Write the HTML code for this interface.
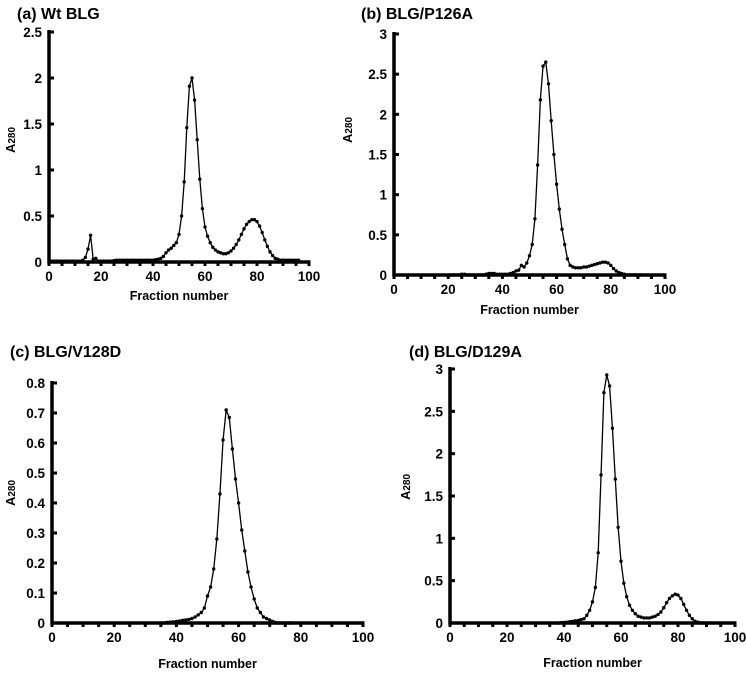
<!DOCTYPE html>
<html><head><meta charset="utf-8">
<style>
body{margin:0;background:#fff}
svg{display:block;font-family:"Liberation Sans",Arial,sans-serif;font-weight:bold}
</style></head>
<body>
<svg id="chart" width="746" height="675" viewBox="0 0 746 675"></svg>
<script>
// Panel (a) Wt BLG: fractions start at 1
const fracA = [];
for (let i = 1; i <= 96; i++) fracA.push(i);
const valA = [0.01,0.01,0.01,0.01,0.01,0.01,0.01,0.01,0.01,0.01,0.01,0.01,0.02,0.05,0.14,0.29,0.03,0.04,0.01,0.01,
0.01,0.01,0.01,0.01,0.015,0.02,0.02,0.02,0.02,0.02,0.02,0.02,0.02,0.02,0.02,0.02,0.02,0.02,0.02,0.02,
0.025,0.03,0.04,0.06,0.1,0.13,0.15,0.18,0.21,0.3,0.5,0.87,1.46,1.91,2.0,1.76,1.33,0.9,0.58,0.38,
0.28,0.21,0.16,0.13,0.11,0.1,0.09,0.09,0.1,0.12,0.15,0.19,0.24,0.3,0.36,0.41,0.44,0.46,0.46,0.44,
0.39,0.32,0.24,0.17,0.11,0.07,0.04,0.03,0.02,0.02,0.02,0.02,0.02,0.02,0.02,0.02];
// Panel (b) BLG/P126A
const startB = 21;
const valB = [0.0,0.0,0.0,0.0,0.01,0.01,0.0,0.0,0.0,0.0,0.0,0.0,0.0,0.01,0.02,0.02,0.02,0.01,0.01,0.01,
0.01,0.01,0.02,0.03,0.05,0.06,0.12,0.1,0.15,0.24,0.38,0.7,1.37,2.18,2.6,2.65,2.38,1.92,1.5,1.13,
0.82,0.57,0.38,0.2,0.12,0.1,0.09,0.09,0.09,0.1,0.1,0.11,0.12,0.13,0.14,0.15,0.16,0.16,0.15,0.12,
0.08,0.05,0.03,0.02,0.01,0.0,0.0,0.0,0.0,0.0,0.0];
// Panel (c) BLG/V128D
const startC = 36;
const valC = [0.0,0.002,0.003,0.004,0.005,0.007,0.009,0.01,0.012,0.015,0.02,0.027,0.035,0.05,0.09,0.12,0.18,0.28,0.43,0.61,
0.71,0.685,0.58,0.48,0.4,0.31,0.24,0.17,0.12,0.08,0.05,0.035,0.02,0.015,0.01,0.005,0.002,0.0,0.0,0.0,0.0,0.0];
// Panel (d) BLG/D129A
const startD = 38;
const valD = [0.0,0.005,0.007,0.01,0.015,0.02,0.025,0.03,0.04,0.05,0.09,0.15,0.25,0.42,0.83,1.75,2.72,2.93,2.8,2.3,
1.7,1.13,0.73,0.47,0.31,0.21,0.15,0.11,0.08,0.07,0.06,0.06,0.06,0.07,0.08,0.1,0.13,0.18,0.24,0.29,
0.32,0.34,0.33,0.29,0.22,0.15,0.09,0.05,0.02,0.01,0.0,0.0,0.0];
const yTicksA = ["0","0.5","1","1.5","2","2.5"];
const yTicksB = ["0","0.5","1","1.5","2","2.5","3"];
const yTicksC = ["0","0.1","0.2","0.3","0.4","0.5","0.6","0.7","0.8"];
const yTicksD = ["0","0.5","1","1.5","2","2.5","3"];
const xTicks = ["0","20","40","60","80","100"];

const NS = "http://www.w3.org/2000/svg";
const svg = document.getElementById("chart");
function mk(tag, attrs, parent, text){
  const e = document.createElementNS(NS, tag);
  for (const k in attrs) e.setAttribute(k, attrs[k]);
  if (text !== undefined) e.textContent = text;
  (parent || svg).appendChild(e);
  return e;
}
function panel(p){
  const g = mk("g", {});
  
  
  const ymax = parseFloat(p.yt[p.yt.length-1]);
  const sx = v => p.x0 + (p.x1 - p.x0) * v / 100;
  const sy = v => p.y0 - (p.y0 - p.y1) * v / ymax;
  const t = mk("text", {x:p.tx, y:p.ty, "font-size":"16"}, g, p.title);
  
  
  const ya = mk("line", {x1:p.x0, y1:p.y1-2, x2:p.x0, y2:p.y0+1.5, stroke:"#000","stroke-width":3.5}, g);
  
  
  const xa = mk("line", {x1:p.x0-1.5, y1:p.y0, x2:p.x1+1.5, y2:p.y0, stroke:"#000","stroke-width":3.5}, g);
  
  
  p.yt.forEach(lbl => {
    const v = parseFloat(lbl), y = sy(v);
    mk("line", {x1:p.x0, y1:y, x2:p.x0+5, y2:y, stroke:"#000","stroke-width":3}, g);
    const tl = mk("text", {x:p.x0-7, y:y+5, "font-size":"13.5","text-anchor":"end"}, g, lbl);
    
    
  });
  for (let v = 0; v <= 100; v += 5) {
    mk("line", {x1:sx(v), y1:p.y0, x2:sx(v), y2:p.y0+4, stroke:"#000","stroke-width":3}, g);
  }
  xTicks.forEach(lbl => {
    const tl = mk("text", {x:sx(parseFloat(lbl)), y:p.y0+19, "font-size":"13.5","text-anchor":"middle"}, g, lbl);
    
    
  });
  const xt = mk("text", {x:(p.x0+p.x1)/2, y:p.xty, "font-size":"12.5","text-anchor":"middle"}, g, "Fraction number");
  
  
  const yl = mk("text", {transform:`translate(${p.ylx},${p.yly}) rotate(-90)`, "font-size":"13","text-anchor":"middle"}, g);
  
  
  mk("tspan", {}, yl, "A");
  mk("tspan", {"font-size":"10"}, yl, "280");
  let d = "";
  p.vals.forEach((v,i) => { d += (i ? "L" : "M") + sx(p.start+i).toFixed(2) + "," + sy(v).toFixed(2); });
  const ln = mk("path", {d:d, fill:"none", stroke:"#000", "stroke-width":1.3}, g);
  
  
  p.vals.forEach((v,i) => {
    const c = mk("circle", {cx:sx(p.start+i), cy:sy(v), r:1.7, fill:"#000"}, g);
    
    
  });
}
panel({name:"panel-a-wt-blg", title:"(a) Wt BLG", tx:17, ty:19, x0:49, x1:309, y0:262, y1:32, yt:yTicksA, vals:valA, start:fracA[0], xty:300, ylx:15, yly:140});
panel({name:"panel-b-p126a", title:"(b) BLG/P126A", tx:361, ty:19, x0:394, x1:665, y0:275, y1:34, yt:yTicksB, vals:valB, start:startB, xty:314, ylx:352, yly:130});
panel({name:"panel-c-v128d", title:"(c) BLG/V128D", tx:10, ty:357, x0:52, x1:363, y0:623, y1:383, yt:yTicksC, vals:valC, start:startC, xty:668, ylx:15, yly:493});
panel({name:"panel-d-d129a", title:"(d) BLG/D129A", tx:409, ty:357, x0:450, x1:735, y0:623, y1:369, yt:yTicksD, vals:valD, start:startD, xty:667, ylx:410, yly:487});
</script>
</body></html>
